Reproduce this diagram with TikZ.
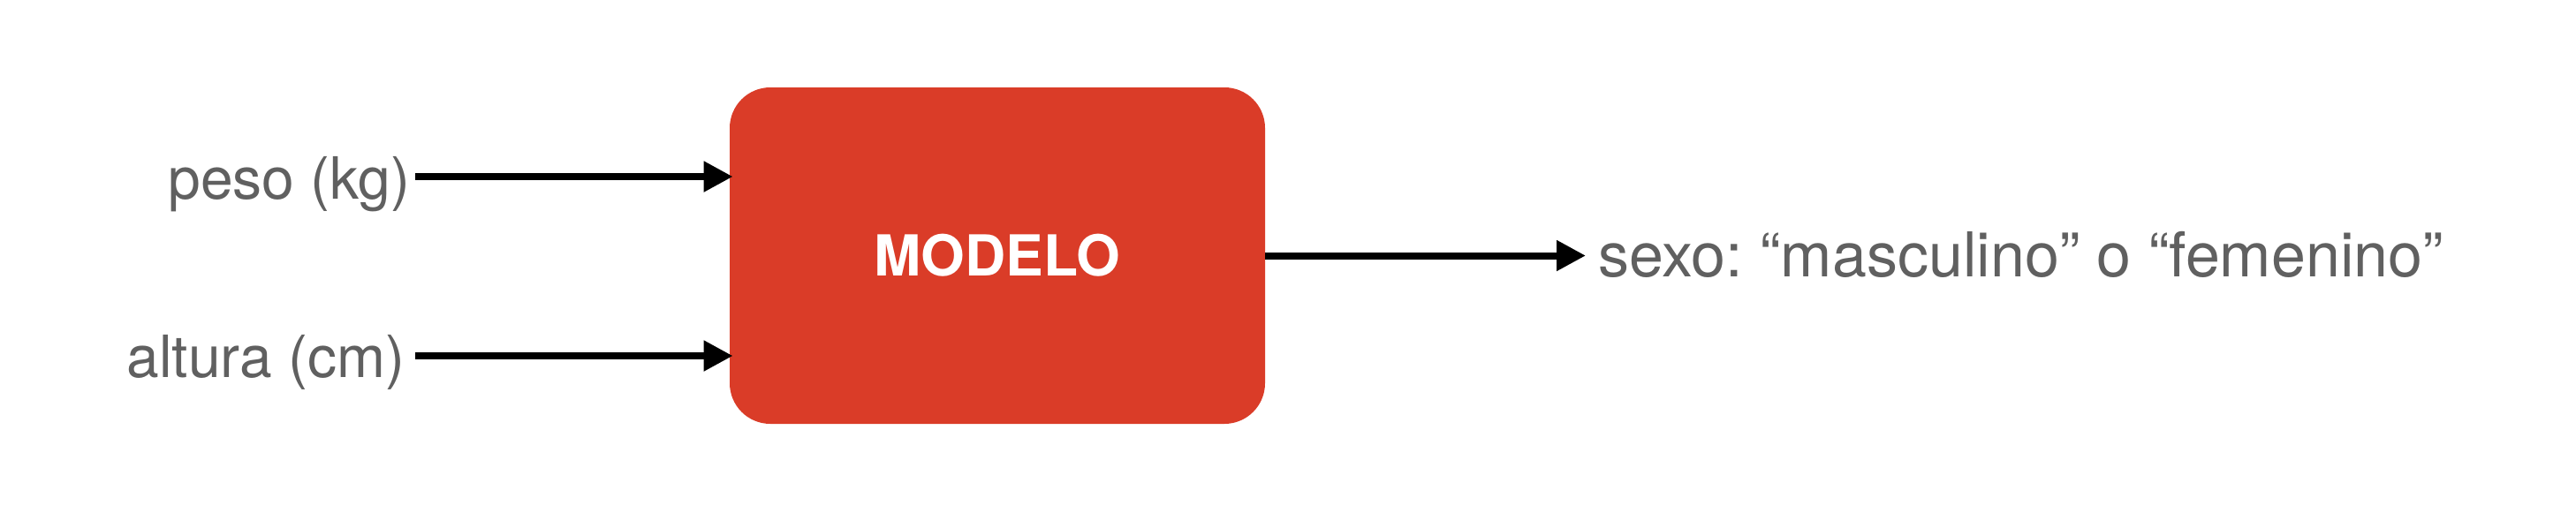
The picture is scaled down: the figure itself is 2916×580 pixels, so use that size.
\documentclass[tikz,border=0pt]{standalone}
\usepackage{fontspec}
\setmainfont{TeX Gyre Heros}
\usetikzlibrary{arrows.meta}
\definecolor{boxred}{HTML}{DA3C28}
\definecolor{labelgray}{HTML}{606060}
\tikzset{
  lbl/.style={text=labelgray, font=\fontsize{33pt}{38pt}\selectfont\frenchspacing, inner sep=0pt},
  biglbl/.style={lbl, font=\fontsize{35pt}{40pt}\selectfont\frenchspacing},
  modelbox/.style={fill=boxred, rounded corners=23pt, minimum width=303pt, minimum height=190.5pt, inner sep=0pt,
    text=white, font=\fontsize{32pt}{38pt}\selectfont\bfseries},
  arr/.style={line width=4pt, -{Triangle[length=16.5pt,width=16.5pt]}, black}
}
\begin{document}
\begin{tikzpicture}[x=0.5pt,y=-0.5pt]
\useasboundingbox (0,0) rectangle (2916,580);
\node[modelbox] (box) at (1129,289.5) {MODELO};
\node[lbl, anchor=base east] (peso) at (465,225) {peso (kg)};
\node[lbl, anchor=base east] (altura) at (459,427) {altura (cm)};
\node[biglbl, anchor=base west] (sexo) at (1809,313) {sexo: “masculino” o “femenino”};
\coordinate (p1) at (470,200);
\coordinate (p2) at (470,403);
\coordinate (p3) at (1795,289.5);
\draw[arr] (p1) -- ([xshift=2pt]p1 -| box.west);
\draw[arr] (p2) -- ([xshift=2pt]p2 -| box.west);
\draw[arr] (box.east |- p3) -- (p3);
\end{tikzpicture}
\end{document}
